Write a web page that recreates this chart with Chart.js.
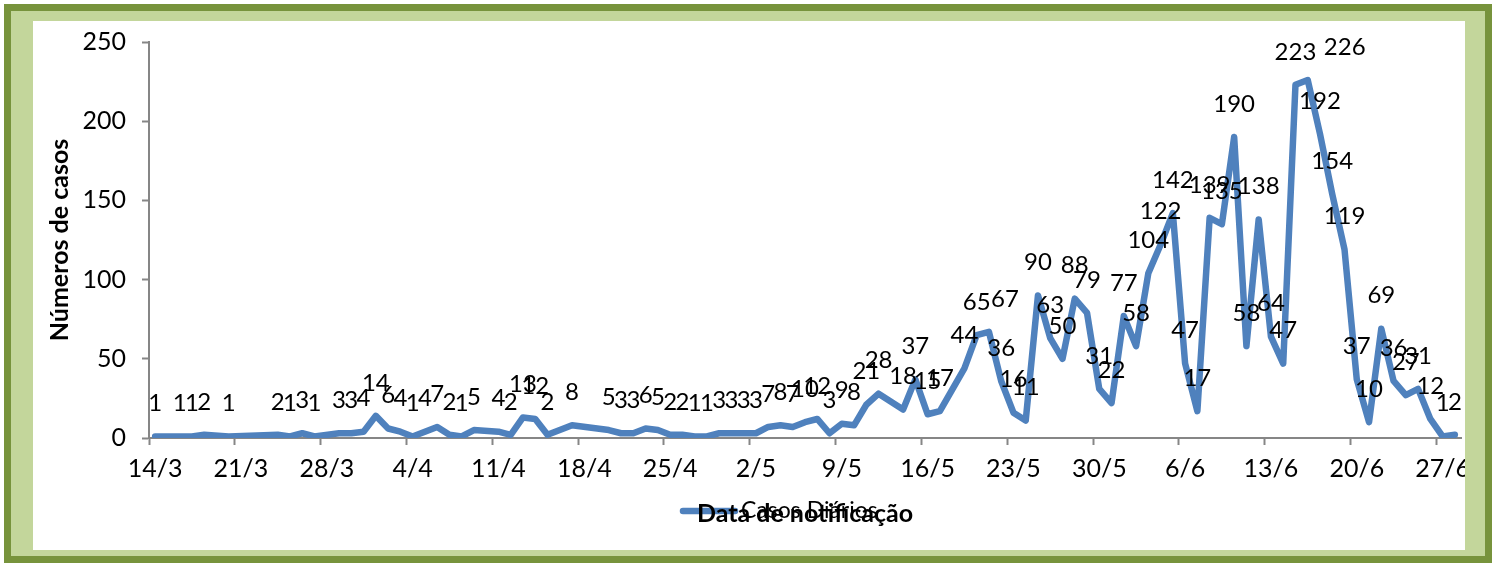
<!DOCTYPE html>
<html>
<head>
<meta charset="utf-8">
<script src="https://cdn.jsdelivr.net/npm/chart.js@4/dist/chart.umd.min.js"></script>
<style>
  html, body { margin: 0; padding: 0; background: #ffffff; width: 1498px; height: 563px; overflow: hidden; }
  #frame { position: absolute; left: 4px; top: 4px; width: 1488px; height: 559px; box-sizing: border-box;
           border: 7px solid #77933C; background: #C3D69B; }
  #panel { position: absolute; left: 33px; top: 21px; width: 1432px; height: 529px; background: #ffffff; }
  #panel canvas { display: block; }
</style>
</head>
<body>
<div id="frame"></div>
<div id="panel"><canvas id="c"></canvas></div>
<script>
// Categories: one per day, 14/3 to 28/6
const categories = [
  "14/3","15/3","16/3","17/3","18/3","19/3","20/3","21/3","22/3","23/3","24/3","25/3","26/3","27/3","28/3","29/3","30/3","31/3",
  "1/4","2/4","3/4","4/4","5/4","6/4","7/4","8/4","9/4","10/4","11/4","12/4","13/4","14/4","15/4","16/4","17/4","18/4","19/4","20/4",
  "21/4","22/4","23/4","24/4","25/4","26/4","27/4","28/4","29/4","30/4",
  "1/5","2/5","3/5","4/5","5/5","6/5","7/5","8/5","9/5","10/5","11/5","12/5","13/5","14/5","15/5","16/5","17/5","18/5","19/5","20/5",
  "21/5","22/5","23/5","24/5","25/5","26/5","27/5","28/5","29/5","30/5","31/5",
  "1/6","2/6","3/6","4/6","5/6","6/6","7/6","8/6","9/6","10/6","11/6","12/6","13/6","14/6","15/6","16/6","17/6","18/6","19/6","20/6",
  "21/6","22/6","23/6","24/6","25/6","26/6","27/6","28/6"
];

// Daily cases (null = no record that day)
const casosDiarios = [
  1, null, 1, 1, 2, null, 1, null, null, null, 2, 1, 3, 1, null, 3, 3, 4,
  14, 6, 4, 1, 4, 7, 2, 1, 5, null, 4, 2, 13, 12, 2, null, 8, null, null, 5,
  3, 3, 6, 5, 2, 2, 1, 1, 3, 3, 3, 3,
  7, 8, 7, 10, 12, 3, 9, 8, 21, 28, null, 18, 37, 15, 17, null, 44, 65, 67, 36,
  16, 11, 90, 63, 50, 88, 79, 31, 22, 77, 58,
  104, 122, 142, 47, 17, 139, 135, 190, 58, 138, 64, 47, 223, 226, 192, 154, 119, 37, 10, 69,
  36, 27, 31, 12, 1, 2
];

// Tick labels shown on the x axis
const tickLabels = ["14/3","21/3","28/3","4/4","11/4","18/4","25/4","2/5","9/5","16/5","23/5","30/5","6/6","13/6","20/6","27/6"];
const yTicks = [0, 50, 100, 150, 200, 250];

const seriesName = "Casos Diários";
const xTitle = "Data de notificação";
const yTitle = "Números de casos";

const LINE = '#4F81BD';
const AXIS = '#868686';
const FONT = 'Lato, "Open Sans", sans-serif';
const labelNudge = { 68: 16, 94: 37 };

const tickSet = new Set(tickLabels);

const valueLabels = {
  id: 'valueLabels',
  beforeDraw(chart) {
    const ctx = chart.ctx;
    const ca = chart.chartArea;
    const cx = (ca.left + ca.right) / 2;
    const y = ca.bottom + 73;
    ctx.save();
    ctx.strokeStyle = LINE;
    ctx.lineWidth = 6.5;
    ctx.lineCap = 'round';
    ctx.beginPath();
    ctx.moveTo(cx - 122, y);
    ctx.lineTo(cx - 70, y);
    ctx.stroke();
    ctx.fillStyle = '#000';
    ctx.font = '23px ' + FONT;
    ctx.textBaseline = 'middle';
    ctx.textAlign = 'left';
    ctx.fillText(seriesName, cx - 64, y);
    ctx.restore();
  },
  afterDatasetsDraw(chart) {
    const ctx = chart.ctx;
    const meta = chart.getDatasetMeta(0);
    const data = chart.data.datasets[0].data;
    ctx.save();
    ctx.fillStyle = '#000';
    ctx.font = '24px ' + FONT;
    ctx.textAlign = 'center';
    ctx.textBaseline = 'middle';
    meta.data.forEach((pt, i) => {
      const v = data[i];
      if (v === null || v === undefined) return;
      const dx = labelNudge[i] || 0;
      ctx.fillText(String(v), pt.x + dx, pt.y - 33);
    });
    ctx.restore();
  }
};

new Chart(document.getElementById('c'), {
  type: 'line',
  data: {
    labels: categories,
    datasets: [{
      label: seriesName,
      data: casosDiarios,
      borderColor: LINE,
      backgroundColor: LINE,
      borderWidth: 6.5,
      borderJoinStyle: 'round',
      borderCapStyle: 'round',
      pointRadius: 0,
      pointHoverRadius: 0,
      tension: 0,
      spanGaps: true,
      fill: false
    }]
  },
  options: {
    responsive: true,
    maintainAspectRatio: false,
    animation: false,
    devicePixelRatio: 1,
    layout: { padding: { left: 0, top: 21, right: 4, bottom: 0 } },
    plugins: {
      legend: { display: false },
      tooltip: { enabled: false }
    },
    scales: {
      x: {
        type: 'category',
        offset: true,
        afterFit(s) { s.height = 112; s.paddingLeft = 0; s.paddingRight = 0; },
        border: { display: true, color: AXIS, width: 2 },
        grid: {
          offset: true,
          drawOnChartArea: false,
          drawTicks: true,
          tickLength: 7,
          tickWidth: 2,
          tickColor: (c) => (c.index % 7 === 0 ? AXIS : 'rgba(0,0,0,0)'),
          color: 'rgba(0,0,0,0)'
        },
        ticks: {
          autoSkip: false,
          maxRotation: 0,
          minRotation: 0,
          padding: 9,
          color: '#000',
          font: { family: FONT, size: 25 },
          callback: function (val, idx) {
            const l = this.getLabelForValue(val);
            return tickSet.has(l) ? l : '';
          }
        },
        title: {
          display: true,
          text: xTitle,
          color: '#000',
          font: { family: FONT, size: 25, weight: 'bold' },
          padding: { top: 0, bottom: 21 }
        }
      },
      y: {
        min: 0,
        max: 250,
        afterFit(s) { s.width = 116; s.paddingTop = 0; s.paddingBottom = 0; },
        afterBuildTicks(s) { s.ticks = yTicks.map(v => ({ value: v })); },
        border: { display: true, color: AXIS, width: 2 },
        grid: {
          drawOnChartArea: false,
          drawTicks: true,
          tickLength: 7,
          tickWidth: 2,
          tickColor: AXIS,
          color: 'rgba(0,0,0,0)'
        },
        ticks: {
          padding: 16,
          color: '#000',
          font: { family: FONT, size: 25 }
        },
        title: {
          display: true,
          text: yTitle,
          color: '#000',
          font: { family: FONT, size: 25, weight: 'bold' },
          padding: { top: 12, bottom: 0 }
        }
      }
    }
  },
  plugins: [valueLabels]
});
</script>
</body>
</html>
